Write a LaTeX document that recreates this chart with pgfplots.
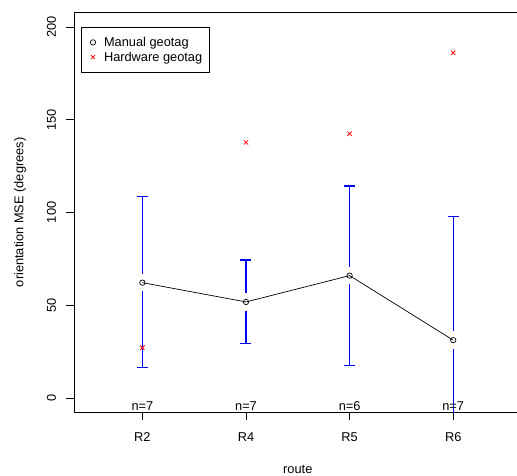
\documentclass[border=0pt]{standalone}
\usepackage{fontspec}
\setmainfont{Liberation Sans}
\usepackage{pgfplots}
\pgfplotsset{compat=1.18}
\pgfplotsset{markleg/.style={legend image code/.code={%
  \draw[##1, only marks] plot coordinates {(7pt,0pt)};
  \path[draw=none, fill=none] (0pt,-1pt) rectangle (16pt,1pt);}}}

\begin{document}
\begin{tikzpicture}
\begin{axis}[
  at={(0pt,0pt)}, anchor=south west,
  scale only axis, width=447.6pt, height=400.7pt,
  xmin=0.34, xmax=4.66, ymin=-8, ymax=208,
  xtick={1,2,3,4}, xticklabels={R2,R4,R5,R6},
  ytick={0,50,100,150,200},
  tick align=outside, xtick pos=left, ytick pos=left,
  major tick length=7.5pt,
  tick style={black, line width=0.6pt},
  axis line style={line width=0.8pt},
  font=\fontsize{12.8}{15}\selectfont,
  /pgf/number format/assume math mode=true,
  yticklabel style={rotate=90, anchor=south},
  yticklabel shift=7pt, xticklabel shift=9pt,
  xlabel={route}, ylabel={orientation MSE (degrees)},
  xlabel style={at={(axis description cs:0.5,-0.142)}, anchor=center},
  ylabel style={at={(axis description cs:-0.1205,0.5)}, anchor=center},
  legend style={at={(0.015,0.9633)}, anchor=north west, draw=black,
    line width=0.6pt, font=\fontsize{12.8}{15}\selectfont,
    inner xsep=5pt, inner ysep=8pt},
  legend cell align=left,
]
% line through the means
\addplot[black, line width=0.7pt, forget plot] coordinates {(1,62.1) (2,51.7) (3,65.9) (4,31.1)};
% error bars, upper and lower halves, leaving a gap round the mean
\addplot[blue, line width=1.1pt, forget plot, unbounded coords=jump] coordinates {
  (1,66.8) (1,108.6) (nan,nan) (2,56.4) (2,74.3) (nan,nan)
  (3,70.6) (3,114.2) (nan,nan) (4,35.8) (4,97.8) (nan,nan)
  (1,57.4) (1,16.2) (nan,nan) (2,47.0) (2,29.1) (nan,nan)
  (3,61.2) (3,17.4) (nan,nan) (4,26.4) (4,-35.6)};
% caps
\addplot[only marks, mark=-, mark size=5.5pt, blue, mark options={line width=1.1pt}, forget plot]
  coordinates {(1,108.6) (1,16.2) (2,74.3) (2,29.1) (3,114.2) (3,17.4) (4,97.8)};
\addplot[only marks, markleg, mark=o, mark size=2.7pt, black, mark options={line width=0.7pt}]
  coordinates {(1,62.1) (2,51.7) (3,65.9) (4,31.1)};
\addlegendentry{Manual geotag}
\addplot[only marks, markleg, mark=x, mark size=3pt, red, mark options={line width=0.8pt}]
  coordinates {(1,27.1) (2,137.7) (3,142.4) (4,186.0)};
\addlegendentry{Hardware geotag}
\node at (axis cs:1,-4.5) {n=7};
\node at (axis cs:2,-4.5) {n=7};
\node at (axis cs:3,-4.5) {n=6};
\node at (axis cs:4,-4.5) {n=7};
\end{axis}
\pgfresetboundingbox
\path[use as bounding box] (-74pt,-63.3pt) rectangle (443pt,412.7pt);
\end{tikzpicture}
\end{document}
